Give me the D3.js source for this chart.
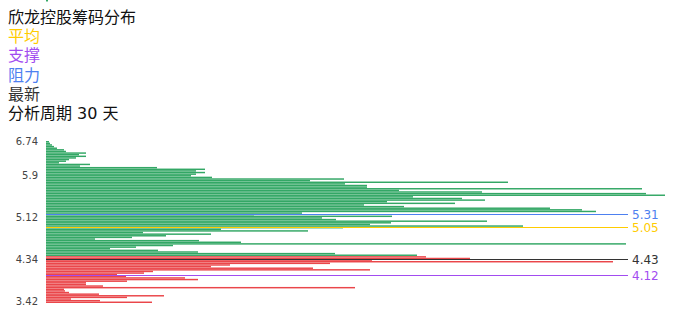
<!DOCTYPE html>
<html><head><meta charset="utf-8">
<script src="https://cdn.jsdelivr.net/npm/d3@7/dist/d3.min.js"></script>
<style>body{margin:0;background:#fff}svg{display:block}</style>
</head><body><svg id="c" width="696" height="320"></svg>
<script>
// price levels (bottom -> top)
const prices = [3.42,3.46,3.49,3.53,3.56,3.60,3.63,3.67,3.70,3.74,3.77,3.81,3.84,3.88,3.92,3.95,3.99,4.02,4.06,4.09,4.13,4.16,4.20,4.23,4.27,4.30,4.34,
4.37,4.40,4.43,4.46,4.49,4.52,4.55,4.58,4.61,4.64,4.67,4.70,4.73,4.76,4.79,4.82,4.85,4.88,4.91,4.94,4.97,5.00,5.03,5.06,5.09,5.12,
5.15,5.18,5.21,5.24,5.27,5.30,5.33,5.36,5.39,5.42,5.45,5.48,5.51,5.54,5.57,5.60,5.63,5.66,5.69,5.72,5.75,5.78,5.81,5.84,5.87,5.90,
5.94,5.98,6.02,6.06,6.10,6.14,6.18,6.22,6.26,6.30,6.34,6.38,6.42,6.46,6.50,6.54,6.58,6.62,6.66,6.70,6.74];
// chip volume at each price level
const chips = [106,54,25,81,118,53,23,19,18,309,57,40,40,81,152,139,80,71,98,107,324,267,165,184,284,567,326,
424,380,371,289,152,112,64,90,127,580,195,153,49,86,120,165,97,262,175,297,477,324,345,441,290,276,
346,208,256,550,536,504,358,318,409,341,439,416,367,619,600,436,353,596,321,321,299,462,264,298,166,
145,150,159,150,159,111,34,44,13,20,23,30,40,33,40,20,18,11,8,6,4,3,2];
const tickPrices = [3.42,4.34,5.12,5.9,6.74];
const title = "欣龙控股筹码分布";
const legendNames = ["平均","支撑","阻力","最新"];
const period = "分析周期 30 天";
const markerNames = ["阻力","平均","最新","支撑"];
const markerValues = [5.31,5.05,4.43,4.12];
const latest = 4.43;

const colors = {"平均":"#ffcc00","支撑":"#a24cf0","阻力":"#4d80f0","最新":"#333333"};
const svg = d3.select("#c");
const font = "DejaVu Sans, 'Noto Sans CJK SC', sans-serif";

const x = d3.scaleLinear().domain([0,620]).range([46,666]);
const y = d3.scaleBand().domain(d3.range(prices.length)).range([303,141]).paddingInner(0.1);
const yPrice = d3.scaleLinear().domain([3.60,6.71]).range([302,142]);

svg.append("g").selectAll("rect").data(chips).join("rect")
  .attr("x", x(0))
  .attr("y", (d,i)=>y(i))
  .attr("width", d=>x(d)-x(0))
  .attr("height", y.bandwidth())
  .attr("fill", (d,i)=> prices[i] < latest ? "#e8363b" : "#22a058")
  .attr("fill-opacity", 0.92);

// y axis labels
const tickIdx = tickPrices.map(p=>prices.findIndex(v=>Math.abs(v-p)<1e-9));
const axis = d3.axisLeft(y).tickValues(tickIdx).tickFormat(i=>String(prices[i])).tickSize(0).tickPadding(8);
const ga = svg.append("g").attr("transform","translate(46,0)").call(axis);
ga.select(".domain").remove();
ga.selectAll("text").attr("font-family",font).attr("font-size",10).attr("fill","#444");

// marker lines
markerNames.forEach((n,k)=>{
  const yy = Math.round(yPrice(markerValues[k]))+0.5;
  svg.append("line").attr("x1",x(0)).attr("x2",628).attr("y1",yy).attr("y2",yy)
    .attr("stroke",colors[n]).attr("stroke-width",1.2);
  svg.append("text").attr("x",632).attr("y",yy).attr("dy","0.35em")
    .attr("font-family",font).attr("font-size",12).attr("fill",colors[n])
    .text(markerValues[k].toFixed(2));
});

// title block
const lines = [{t:title,c:"#111"}].concat(legendNames.map(n=>({t:n,c:colors[n]}))).concat([{t:period,c:"#111"}]);
svg.append("g").selectAll("text").data(lines).join("text")
  .attr("x",8).attr("y",(d,i)=>23+19.2*i)
  .attr("font-family",font).attr("font-size",16)
  .attr("fill",d=>d.c).text(d=>d.t);
</script></body></html>
